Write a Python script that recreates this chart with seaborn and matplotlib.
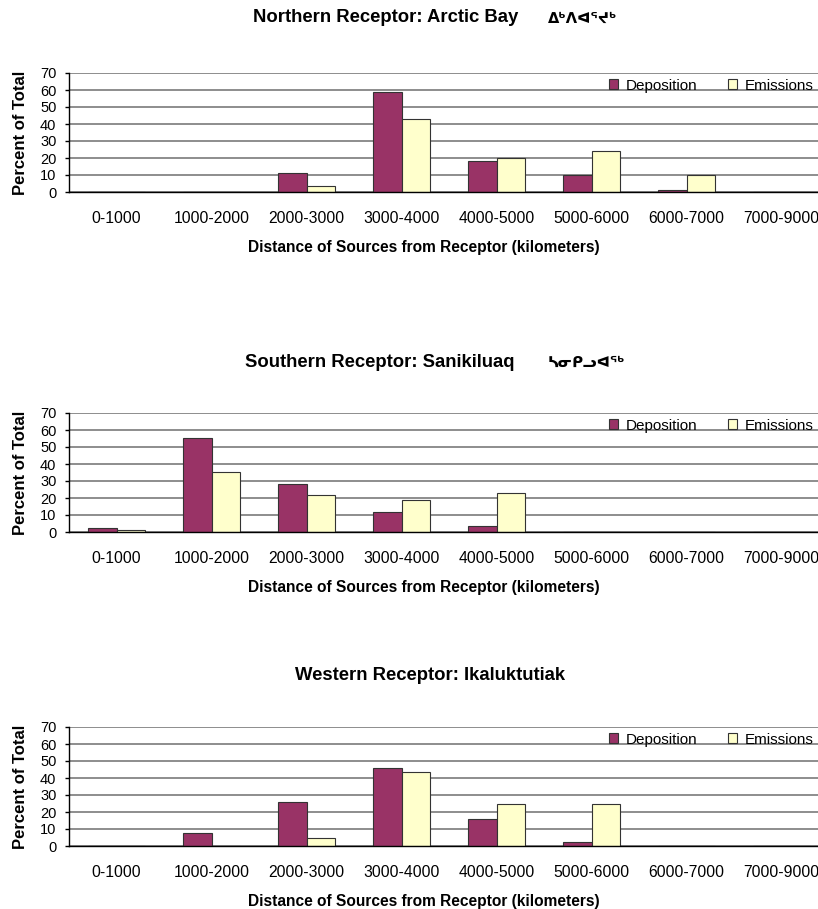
import numpy as np
import pandas as pd
import seaborn as sns
import matplotlib.pyplot as plt
from matplotlib.patches import Patch

distances = ["0-1000", "1000-2000", "2000-3000", "3000-4000",
             "4000-5000", "5000-6000", "6000-7000", "7000-9000"]
series = ["Deposition", "Emissions"]

arctic_dep = [0, 0, 11, 59, 18, 10, 1, 0]
arctic_emi = [0, 0, 3.5, 43, 20, 24, 10, 0]
sanik_dep = [2.5, 55.5, 28, 12, 3.5, 0, 0, 0]
sanik_emi = [1, 35.5, 22, 19, 23, 0, 0, 0]
ikal_dep = [0, 7.5, 26, 46, 16, 2.5, 0, 0]
ikal_emi = [0, 0, 5, 43.5, 25, 25, 0, 0]

titles = ["Northern Receptor: Arctic Bay",
          "Southern Receptor: Sanikiluaq",
          "Western Receptor: Ikaluktutiak"]
syllabics = ["ᐃᒃᐱᐊᕐᔪᒃ", "ᓴᓂᑭᓗᐊᖅ", ""]

panels = [(arctic_dep, arctic_emi), (sanik_dep, sanik_emi), (ikal_dep, ikal_emi)]

sns.set_theme(style="white")
plt.rcParams["font.family"] = ["Liberation Sans", "DejaVu Sans"]
plt.rcParams["text.color"] = "black"
plt.rcParams["axes.labelcolor"] = "black"
plt.rcParams["xtick.color"] = "black"
plt.rcParams["ytick.color"] = "black"

colors = {"Deposition": "#993366", "Emissions": "#FFFFCC"}

W, H = 818, 909
fig = plt.figure(figsize=(W / 100, H / 100), dpi=100)

# pixel layout
ax_tops = [73, 413, 727]
ax_h = 119
left = 69
ax_w = 760
title_y = [18, 362, 675]
title_x = [253, 245, 295]
syl_x = [548, 548, 0]

for i, (dep, emi) in enumerate(panels):
    ax = fig.add_axes([left / W, 1 - (ax_tops[i] + ax_h) / H, ax_w / W, ax_h / H])
    df = pd.DataFrame({
        "distance": distances * 2,
        "percent": dep + emi,
        "series": ["Deposition"] * len(distances) + ["Emissions"] * len(distances),
    })
    sns.barplot(data=df, x="distance", y="percent", hue="series", order=distances,
                hue_order=series, palette=colors, saturation=1, width=0.59, gap=0,
                edgecolor="#333333", linewidth=0.8, legend=False, ax=ax)
    ax.set_ylim(0, 70)
    ax.set_xlim(-0.5, 7.5)
    ax.set_yticks(range(0, 71, 10))
    ax.yaxis.grid(True, color="#7a7a7a", linewidth=1.2)
    ax.set_axisbelow(True)
    for s in ["top", "right"]:
        ax.spines[s].set_visible(False)
    for s in ["left", "bottom"]:
        ax.spines[s].set_color("black")
        ax.spines[s].set_linewidth(1.0)
    ax.tick_params(axis="y", length=3, width=1, color="black", left=True,
                   labelsize=10.5, pad=6)
    ax.tick_params(axis="x", length=0, labelsize=11.3, pad=14)
    ax.set_ylabel("Percent of Total", fontsize=12, fontweight="bold", labelpad=9)
    ax.set_xlabel("Distance of Sources from Receptor (kilometers)", fontsize=11.2,
                  fontweight="bold")
    ax.xaxis.set_label_coords((424 - left) / ax_w, -48 / ax_h)

    handles = [Patch(facecolor=colors[s], edgecolor="#333333", linewidth=0.8) for s in series]
    ax.legend(handles, series, loc="upper right", ncol=2, frameon=False,
              bbox_to_anchor=(1.0, 1 - (ax_tops[i] + 1) / H), bbox_transform=fig.transFigure,
              fontsize=11, handlelength=0.6, handleheight=0.6, handletextpad=0.5,
              columnspacing=2.0, borderpad=0.1, borderaxespad=0.2)

    fig.text(title_x[i] / W, 1 - title_y[i] / H, titles[i], fontsize=13.3,
             fontweight="bold", ha="left", va="center")
    if syllabics[i]:
        fig.text(syl_x[i] / W, 1 - title_y[i] / H, syllabics[i], fontsize=10.5,
                 fontweight="bold", ha="left", va="center", family=["DejaVu Sans"])

fig.savefig("out.png", dpi=100)
